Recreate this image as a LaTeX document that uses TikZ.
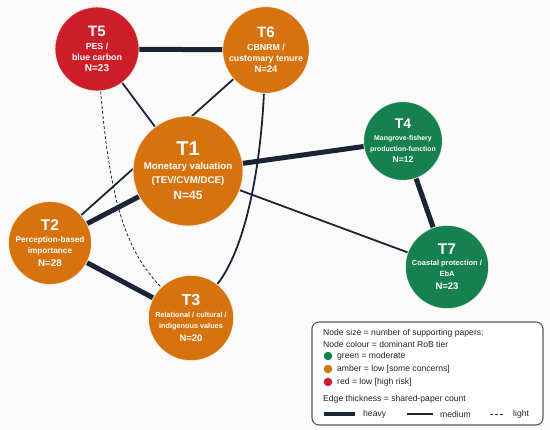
\documentclass[tikz,border=0pt]{standalone}
\usepackage{fontspec}
\setmainfont{Liberation Sans}
\pgfdeclarelayer{bgl}
\pgfdeclarelayer{edgel}
\pgfsetlayers{bgl,edgel,main}
\definecolor{amber}{HTML}{D6730F}
\definecolor{rred}{HTML}{CC1E28}
\definecolor{ggreen}{HTML}{16804F}
\definecolor{edgecol}{HTML}{1B2436}
\definecolor{bgcol}{HTML}{FAFAFA}
\definecolor{legtext}{HTML}{222222}
\newcommand\tsz[1]{\fontsize{#1}{#1}\selectfont}
\begin{document}
\begin{tikzpicture}[x=1pt,y=-1pt,
  topic/.style={circle, draw=white, draw opacity=0.75, line width=0.9pt, inner sep=0pt, text=white, align=center},
  heavy/.style={draw=edgecol, line width=5pt},
  medium/.style={draw=edgecol, line width=1.8pt},
  light/.style={draw=edgecol, line width=0.8pt, dash pattern=on 3pt off 2pt},
  legtxt/.style={anchor=west, inner sep=0pt, text=legtext, font=\fontsize{8.6}{9}\selectfont},
  legdot/.style={circle, inner sep=0pt, minimum size=8.5pt},
]
\begin{pgfonlayer}{bgl}
\fill[bgcol] (0,0) rectangle (550,430);
\end{pgfonlayer}
\useasboundingbox (0,0) rectangle (550,430);

% topic nodes
\node[topic, fill=amber, minimum size=110pt, font=\bfseries\fontsize{9.7}{14}\selectfont] (t1) at (188,171)
  {{\tsz{20}T1}\\Monetary valuation\\(TEV/CVM/DCE)\\[2pt]{\tsz{12}N=45}};
\node[topic, fill=amber, minimum size=82pt, font=\bfseries\fontsize{8.2}{11}\selectfont] (t2) at (50,243)
  {{\tsz{15.5}T2}\\[1pt]Perception-based\\importance\\[2pt]{\tsz{9.8}N=28}};
\node[topic, fill=amber, minimum size=80pt, font=\bfseries\fontsize{7.3}{11}\selectfont] (t3) at (191,318)
  {{\tsz{16}T3}\\[1pt]Relational / cultural /\\indigenous values\\[2pt]{\tsz{9.5}N=20}};
\node[topic, fill=ggreen, minimum size=72pt, font=\bfseries\fontsize{6.9}{11}\selectfont] (t4) at (403,141)
  {{\tsz{14}T4}\\[1pt]Mangrove-fishery\\production-function\\{\tsz{8.5}N=12}};
\node[topic, fill=rred, minimum size=84pt, font=\bfseries\fontsize{8.8}{11}\selectfont] (t5) at (97,49)
  {{\tsz{15}T5}\\[2pt]PES /\\blue carbon\\{\tsz{10}N=23}};
\node[topic, fill=amber, minimum size=86pt, font=\bfseries\fontsize{8.8}{11}\selectfont] (t6) at (266,50)
  {{\tsz{15}T6}\\[2pt]CBNRM /\\customary tenure\\{\tsz{9.5}N=24}};
\node[topic, fill=ggreen, minimum size=80pt, font=\bfseries\fontsize{7.5}{11}\selectfont] (t7) at (447,267)
  {{\tsz{15.5}T7}\\Coastal protection /\\EbA\\[2pt]{\tsz{9.5}N=23}};

% edges
\begin{pgfonlayer}{edgel}
\draw[heavy] (t5.center) -- (t6.center);
\draw[heavy] (t1.center) -- (t4.center);
\draw[heavy] (t4.center) -- (t7.center);
\draw[heavy] (t1.center) -- (t2.center);
\draw[heavy] (t2.center) -- (t3.center);
\draw[medium] (t5.center) -- (t1.center);
\draw[medium] (t2.center) -- (t6.center);
\draw[medium] (t1.center) -- (t7.center);
\draw[medium] (t6) .. controls (260,175) and (244,250) .. (t3);
\draw[light] (t5) .. controls (110,200) and (125,250) .. (t3);
\end{pgfonlayer}

% legend
\node[draw=black!65, line width=1.1pt, fill=white, rounded corners=7pt, minimum width=231pt, minimum height=103pt, inner sep=0pt] (leg) at (427.5,373.5) {};
\node[legtxt] (l1) at (323,333) {Node size = number of supporting papers;};
\node[legtxt] (l2) at (323,344) {Node colour = dominant RoB tier};
\node[legdot, fill=ggreen] (dg) at (328,356) {};
\node[legtxt] (lg) at (337,356) {green = moderate};
\node[legdot, fill=amber] (da) at (328,369) {};
\node[legtxt] (la) at (337,369) {amber = low [some concerns]};
\node[legdot, fill=rred] (dr) at (328,382) {};
\node[legtxt] (lr) at (337,382) {red = low [high risk]};
\node[legtxt] (le) at (323,399) {Edge thickness = shared-paper count};
\coordinate (h1) at (324,414); \coordinate (h2) at (355,414);
\draw[draw=edgecol, line width=3.5pt] (h1) -- (h2);
\node[legtxt] (lh) at (363,414) {heavy};
\coordinate (m1) at (407,414); \coordinate (m2) at (433,414);
\draw[draw=edgecol, line width=1.5pt] (m1) -- (m2);
\node[legtxt] (lm) at (440,414) {medium};
\coordinate (d1) at (490,414); \coordinate (d2) at (504,414);
\draw[draw=edgecol, line width=0.8pt, dash pattern=on 3pt off 2pt] (d1) -- (d2);
\node[legtxt] (ll) at (513,414) {light};
\end{tikzpicture}
\end{document}
